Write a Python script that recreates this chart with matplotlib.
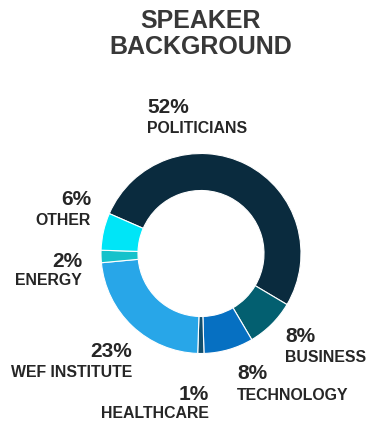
import matplotlib.pyplot as plt

plt.rcParams['font.family'] = ['Liberation Sans', 'DejaVu Sans']

# speaker background shares, clockwise from the top-left
categories = ["POLITICIANS", "BUSINESS", "TECHNOLOGY", "HEALTHCARE",
              "WEF INSTITUTE", "ENERGY", "OTHER"]
shares = [52, 8, 8, 1, 23, 2, 6]
colors = ["#0a2b3e", "#035f70", "#0670c2", "#114e6c",
          "#28a6e8", "#15c2cb", "#00e5f7"]

# label anchors in pie units (x, percent baseline, name baseline, alignment)
label_pos = [(-0.54, 1.405, 1.205, "left"),
             (0.84, -0.885, -1.085, "left"),
             (0.36, -1.255, -1.465, "left"),
             (0.08, -1.47, -1.65, "right"),
             (-0.69, -1.035, -1.235, "right"),
             (-1.19, -0.135, -0.315, "right"),
             (-1.10, 0.485, 0.285, "right")]

fig = plt.figure(figsize=(3.68, 4.22), dpi=100)
ax = fig.add_axes([101 / 368, (422 - 353.5) / 422, 200 / 368, 200 / 422])

ax.pie(shares, colors=colors, startangle=156.5, counterclock=False,
       radius=1.0, wedgeprops=dict(width=0.37, edgecolor="white", linewidth=0.8))
ax.set_xlim(-1, 1)
ax.set_ylim(-1, 1)
ax.set_aspect("equal")
ax.axis("off")

for name, val, (x, y_pct, y_name, ha) in zip(categories, shares, label_pos):
    ax.text(x, y_pct, f"{val}%", ha=ha, va="baseline", fontsize=15,
            fontweight="bold", color="#262626", clip_on=False)
    ax.text(x, y_name, name, ha=ha, va="baseline", fontsize=11.4,
            fontweight="bold", color="#262626", clip_on=False)

fig.text(201 / 368, 1 - 28 / 422, "SPEAKER", ha="center", va="baseline",
         fontsize=18, fontweight="bold", color="#383838")
fig.text(201 / 368, 1 - 54 / 422, "BACKGROUND", ha="center", va="baseline",
         fontsize=18, fontweight="bold", color="#383838")

fig.savefig("out.png", dpi=100)
